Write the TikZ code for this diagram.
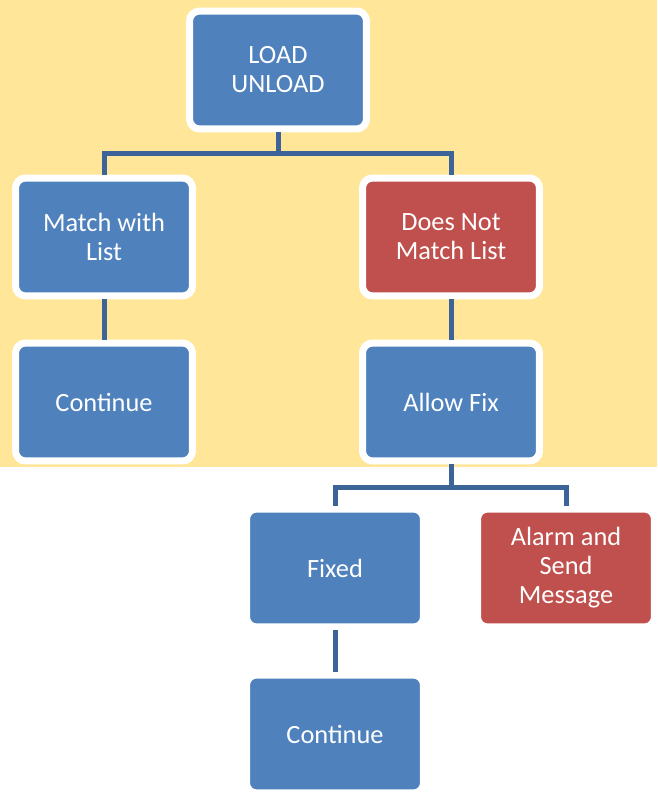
\documentclass[tikz,border=0pt]{standalone}
\usepackage{fontspec}
\setmainfont{Carlito}
\definecolor{boxblue}{HTML}{4F81BD}
\definecolor{boxred}{HTML}{C0504D}
\definecolor{linkblue}{HTML}{3C6498}
\definecolor{bgyellow}{HTML}{FFE699}
\tikzset{
	step box/.style={draw=white, line width=0.14cm, rounded corners=0.2cm, minimum width=3.54cm, minimum height=2.36cm, text=white, align=center, font=\fontsize{15}{16.5}\selectfont},
	ok box/.style={step box, fill=boxblue},
	bad box/.style={step box, fill=boxred},
	link/.style={draw=linkblue, line width=0.1cm}
}

\begin{document}
\begin{tikzpicture}[x=0.02cm, y=-0.02cm]
		%%%%% START %%%%%
		
		\useasboundingbox (0, 0) rectangle (657, 794);
		\fill[bgyellow] (0, 0) rectangle (657, 467);
		
		\node[ok box] (load) at (278, 70) {LOAD\\UNLOAD};
		\node[ok box] (match) at (104, 237) {Match with\\List};
		\node[bad box] (nomatch) at (451, 237) {Does Not\\Match List};
		\node[ok box] (cont1) at (104, 402) {Continue};
		\node[ok box] (fix) at (451, 402) {Allow Fix};
		\node[ok box] (fixed) at (335, 568) {Fixed};
		\node[bad box] (alarm) at (566, 568) {Alarm and\\Send\\Message};
		\node[ok box] (cont2) at (335, 734) {Continue};
		
		\coordinate (bus1) at (278, 153);
		\coordinate (bus2) at (451, 487);
		
		\draw[link] (load.south) -- (bus1);
		\draw[link] (bus1) -| (match.north);
		\draw[link] (bus1) -| (nomatch.north);
		\draw[link] (match) -- (cont1);
		\draw[link] (nomatch) -- (fix);
		\draw[link] (fix.south) -- (bus2);
		\draw[link] (bus2) -| (fixed.north);
		\draw[link] (bus2) -| (alarm.north);
		\draw[link] (fixed) -- (cont2);
		
		%%%%% END %%%%%
	\end{tikzpicture}
\end{document}
